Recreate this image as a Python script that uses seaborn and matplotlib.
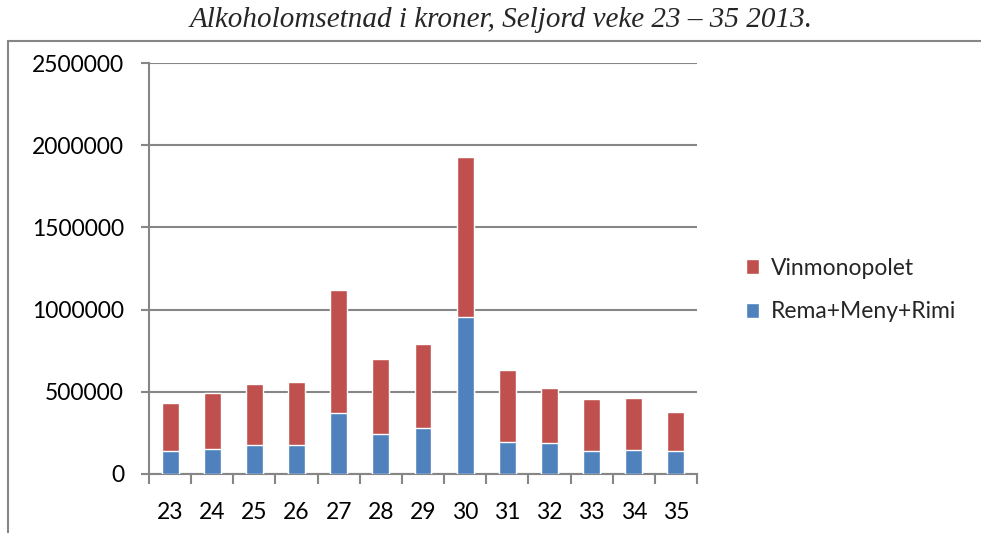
import numpy as np
import pandas as pd
import matplotlib
matplotlib.use("Agg")
import matplotlib.pyplot as plt
import seaborn as sns
from matplotlib.patches import Patch
from matplotlib.lines import Line2D

# Data
veker = ["23", "24", "25", "26", "27", "28", "29", "30", "31", "32", "33", "34", "35"]
rema_meny_rimi = [140000, 155000, 174000, 174000, 374000, 243000, 277000, 954000, 194000, 186000, 142000, 146000, 140000]
vinmonopolet = [291000, 337000, 373000, 385000, 746000, 456000, 513000, 972000, 440000, 340000, 315000, 316000, 240000]

raud = "#C0504D"
blaa = "#4F81BD"
grid_col = "#868686"

df = pd.DataFrame({"veke": veker, "rema": rema_meny_rimi, "vin": vinmonopolet})
df["total"] = df["rema"] + df["vin"]

sns.set_style("white")
plt.rcParams["font.family"] = ["Lato", "DejaVu Sans"]

fig = plt.figure(figsize=(9.81, 5.33), dpi=100)
ax = fig.add_axes([149 / 981, 1 - 474 / 533, (697 - 149) / 981, (474 - 63) / 533])

sns.barplot(data=df, x="veke", y="total", color=raud, saturation=1, width=0.4, ax=ax, zorder=3)
sns.barplot(data=df, x="veke", y="rema", color=blaa, saturation=1, width=0.4, ax=ax, zorder=4)

ax.set_xlim(-0.5, len(veker) - 0.5)
ax.set_ylim(0, 2500000)
ax.set_yticks(np.arange(0, 2500001, 500000))
ax.set_yticklabels([f"{int(v)}" for v in np.arange(0, 2500001, 500000)])
ax.yaxis.grid(True, color=grid_col, linewidth=1.5, zorder=0)
ax.set_axisbelow(True)
ax.set_xlabel("")
ax.set_ylabel("")

for s in ["top", "right"]:
    ax.spines[s].set_visible(False)
for s in ["left", "bottom"]:
    ax.spines[s].set_color(grid_col)
    ax.spines[s].set_linewidth(1.5)

ax.tick_params(axis="y", which="major", length=6, width=1.5, color=grid_col, pad=12,
               labelsize=16.5, labelcolor="black", left=True)
ax.set_xticks(np.arange(-0.5, len(veker), 1), minor=True)
ax.tick_params(axis="x", which="minor", length=7, width=1.5, color=grid_col, bottom=True)
ax.tick_params(axis="x", which="major", length=0, pad=20, labelsize=16.5, labelcolor="black")

handles = [Patch(facecolor=raud, label="Vinmonopolet"),
           Patch(facecolor=blaa, label="Rema+Meny+Rimi")]
fig.legend(handles=handles, loc="center left", bbox_to_anchor=(725 / 981, 1 - 290 / 533),
           frameon=False, fontsize=16.5, handlelength=0.6, handleheight=0.6,
           handletextpad=0.5, labelspacing=1.0)

fig.text(501 / 981, 1 - 20 / 533, "Alkoholomsetnad i kroner, Seljord veke 23 \u2013 35 2013.",
         ha="center", va="center", fontsize=21, fontstyle="italic",
         family=["Liberation Serif", "DejaVu Serif"])

# Chart area border (top and left edge)
fig.add_artist(Line2D([8 / 981, 1], [1 - 41 / 533, 1 - 41 / 533], transform=fig.transFigure,
                      color=grid_col, linewidth=1.5))
fig.add_artist(Line2D([8 / 981, 8 / 981], [0, 1 - 41 / 533], transform=fig.transFigure,
                      color=grid_col, linewidth=1.5))

fig.savefig("out.png", dpi=100)
